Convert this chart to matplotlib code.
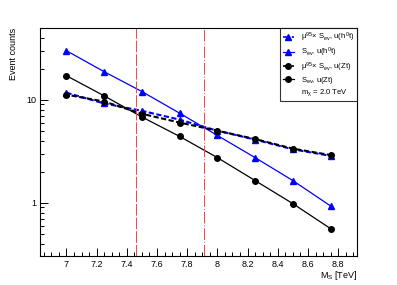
import matplotlib
matplotlib.use("Agg")
import matplotlib.pyplot as plt
from matplotlib.lines import Line2D
from matplotlib.ticker import MultipleLocator, LogLocator, NullFormatter, FixedLocator, FixedFormatter, FuncFormatter

plt.rcParams['font.family'] = ['Liberation Sans', 'DejaVu Sans']
plt.rcParams['mathtext.fontset'] = 'custom'
plt.rcParams['mathtext.rm'] = 'Liberation Sans'
plt.rcParams['mathtext.it'] = 'Liberation Sans'

mass = [7.0, 7.25, 7.5, 7.75, 8.0, 8.25, 8.5, 8.75]
mu_sev_h0t = [11.7, 9.2, 7.8, 6.4, 5.0, 4.1, 3.3, 2.85]
sev_h0t = [29.9, 18.7, 12.0, 7.4, 4.5, 2.74, 1.64, 0.93]
mu_sev_zt = [11.2, 9.6, 7.3, 6.0, 5.0, 4.15, 3.35, 2.9]
sev_zt = [17.1, 10.9, 6.8, 4.4, 2.74, 1.64, 0.98, 0.56]
limits = [7.46, 7.91]

fig = plt.figure(figsize=(3.97, 2.85), dpi=100)
ax = fig.add_axes([0.1008, 0.1018, 0.7985, 0.80])

ax.plot(mass, mu_sev_h0t, color='blue', ls=(0, (2.5, 1.2)), lw=1.5, marker='^', ms=4)
ax.plot(mass, sev_h0t, color='blue', ls='-', lw=0.9, marker='^', ms=4)
ax.plot(mass, mu_sev_zt, color='black', ls=(1.2, (2.5, 1.2)), lw=1.5, marker='o', ms=4)
ax.plot(mass, sev_zt, color='black', ls='-', lw=0.9, marker='o', ms=4)

ax.axvline(limits[0], color='#ff4040', lw=0.7, ls=(0, (12, 2)))
ax.axvline(limits[1], color='#ff4040', lw=0.7, ls=(0, (12, 2, 1, 2)))

ax.set_yscale('log')
ax.set_xlim(6.825, 8.925)
ax.set_ylim(0.304, 49.7)

ax.xaxis.set_major_locator(MultipleLocator(0.2))
ax.xaxis.set_minor_locator(MultipleLocator(0.05))
ax.xaxis.set_major_formatter(FuncFormatter(lambda v, p: '%g' % round(v, 2)))
ax.yaxis.set_major_locator(FixedLocator([1, 10]))
ax.yaxis.set_major_formatter(FixedFormatter(['1', '10']))
ax.yaxis.set_minor_locator(LogLocator(base=10, subs=range(2, 10)))
ax.yaxis.set_minor_formatter(NullFormatter())
ax.tick_params(which='both', direction='in', top=False, right=False, labelsize=6.5, pad=3)
ax.tick_params(which='major', length=6, width=0.7)
ax.tick_params(which='minor', length=3, width=0.7)
for s in ax.spines.values():
    s.set_linewidth(0.8)

ax.set_xlabel('$M_S$ [TeV]', fontsize=6.5, loc='right', labelpad=0)
ax.set_ylabel('Event counts', fontsize=6.5, loc='top', labelpad=6)

handles = [
    Line2D([], [], color='blue', ls='--', lw=1.2, marker='^', ms=4),
    Line2D([], [], color='blue', ls='-', lw=0.9, marker='^', ms=4),
    Line2D([], [], color='black', ls='--', lw=1.2, marker='o', ms=4),
    Line2D([], [], color='black', ls='-', lw=0.9, marker='o', ms=4),
    Line2D([], [], color='none'),
]
labels = [r'$\mu^{95}$$\times$ $S_{ev}$, u($h^0$t)',
          r'$S_{ev}$, u($h^0$t)',
          r'$\mu^{95}$$\times$ $S_{ev}$, u(Zt)',
          r'$S_{ev}$, u(Zt)',
          r'$m_{\chi}$ = 2.0 TeV']
leg = ax.legend(handles, labels, loc='upper right', bbox_to_anchor=(1.0, 1.0),
                fontsize=5.5, frameon=True, fancybox=False, edgecolor='black',
                handlelength=1.5, handletextpad=0.9, borderpad=0.35, labelspacing=0.2,
                borderaxespad=0)
leg.get_frame().set_linewidth(0.8)

fig.savefig('out.png', dpi=100)
